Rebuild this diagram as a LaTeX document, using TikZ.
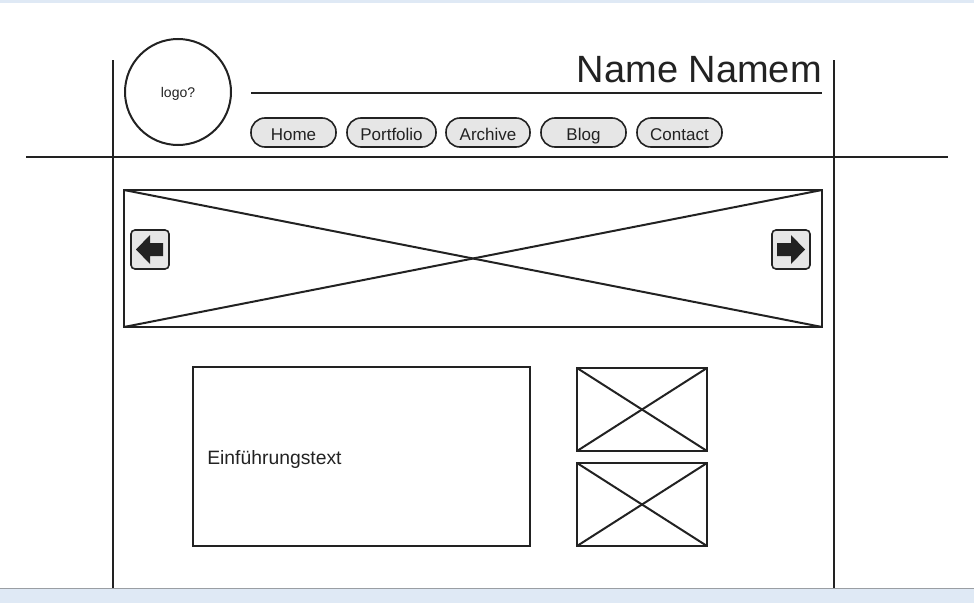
\documentclass[tikz,border=0pt]{standalone}
\usepackage{fontspec}
\setmainfont{Liberation Sans}
\definecolor{ink}{HTML}{222222}
\definecolor{btnfill}{HTML}{E6E6E6}
\definecolor{bandblue}{HTML}{DFE9F5}
\definecolor{bandline}{HTML}{9A9EA3}
\tikzset{
  wire/.style={draw=ink, line width=1.5pt},
  btn/.style={draw=ink, line width=1.2pt, fill=btnfill, rounded corners=10.5pt},
  btntext/.style={text=ink, anchor=base, inner sep=0pt, font=\fontsize{12.75pt}{15pt}\selectfont},
  ximg/.style={draw=ink, line width=1.5pt},
  arrbtn/.style={draw=ink, line width=1.2pt, fill=btnfill, rounded corners=3pt},
  arr/.style={fill=ink, draw=none}
}
\begin{document}
\begin{tikzpicture}[x=0.75pt,y=-0.75pt]
\useasboundingbox (0,0) rectangle (974,603);
% window bands
\fill[bandblue] (0,0) rectangle (974,3);
\fill[bandblue] (0,589) rectangle (974,603);
\draw[bandline, line width=1.2pt] (0,588.5) -- (974,588.5);
% frame lines
\coordinate (vl1) at (113,60); \coordinate (vl2) at (113,588);
\coordinate (vr1) at (834,60); \coordinate (vr2) at (834,588);
\coordinate (hl1) at (26,157); \coordinate (hl2) at (948,157);
\draw[wire] (vl1) -- (vl2);
\draw[wire] (vr1) -- (vr2);
\draw[wire] (hl1) -- (hl2);
% logo
\draw[wire] (178,92) circle (53);
\node[text=ink, anchor=base, inner sep=0pt, font=\fontsize{10.5pt}{12pt}\selectfont] (logo) at (178,97) {logo?};
% title
\node[text=ink, anchor=base east, inner sep=0pt, font=\fontsize{28.5pt}{32pt}\selectfont] (title) at (822,82) {Name Namem};
\coordinate (ul1) at (251,93); \coordinate (ul2) at (822,93);
\draw[wire] (ul1) -- (ul2);
% buttons
\draw[btn] (251,118) rectangle (336,147);
\node[btntext] (home) at (293.5,140) {Home};
\draw[btn] (347,118) rectangle (436,147);
\node[btntext] (portfolio) at (391.5,140) {Portfolio};
\draw[btn] (446,118) rectangle (530,147);
\node[btntext] (archive) at (488,140) {Archive};
\draw[btn] (541,118) rectangle (626,147);
\node[btntext] (blog) at (583.5,140) {Blog};
\draw[btn] (637,118) rectangle (722,147);
\node[btntext] (contact) at (679.5,140) {Contact};
% slider
\draw[ximg] (124,190) rectangle (822,327);
\draw[ximg] (124,190) -- (822,327);
\draw[ximg] (124,327) -- (822,190);
% left arrow button
\draw[arrbtn] (131,230) rectangle (169,269);
\fill[arr] (136,249.5) -- (150,235) -- (150,243) -- (163,243) -- (163,256) -- (150,256) -- (150,264) -- cycle;
% right arrow button
\draw[arrbtn] (772,230) rectangle (810,269);
\fill[arr] (805,249.5) -- (791,235) -- (791,243) -- (777,243) -- (777,256) -- (791,256) -- (791,264) -- cycle;
% intro text box
\draw[wire] (193,367) rectangle (530,546);
\node[text=ink, anchor=base west, inner sep=0pt, font=\fontsize{14.5pt}{17pt}\selectfont] (intro) at (207,464) {Einführungstext};
% small images
\draw[ximg] (577,368) rectangle (707,451);
\draw[ximg] (577,368) -- (707,451);
\draw[ximg] (577,451) -- (707,368);
\draw[ximg] (577,463) rectangle (707,546);
\draw[ximg] (577,463) -- (707,546);
\draw[ximg] (577,546) -- (707,463);
\end{tikzpicture}
\end{document}
